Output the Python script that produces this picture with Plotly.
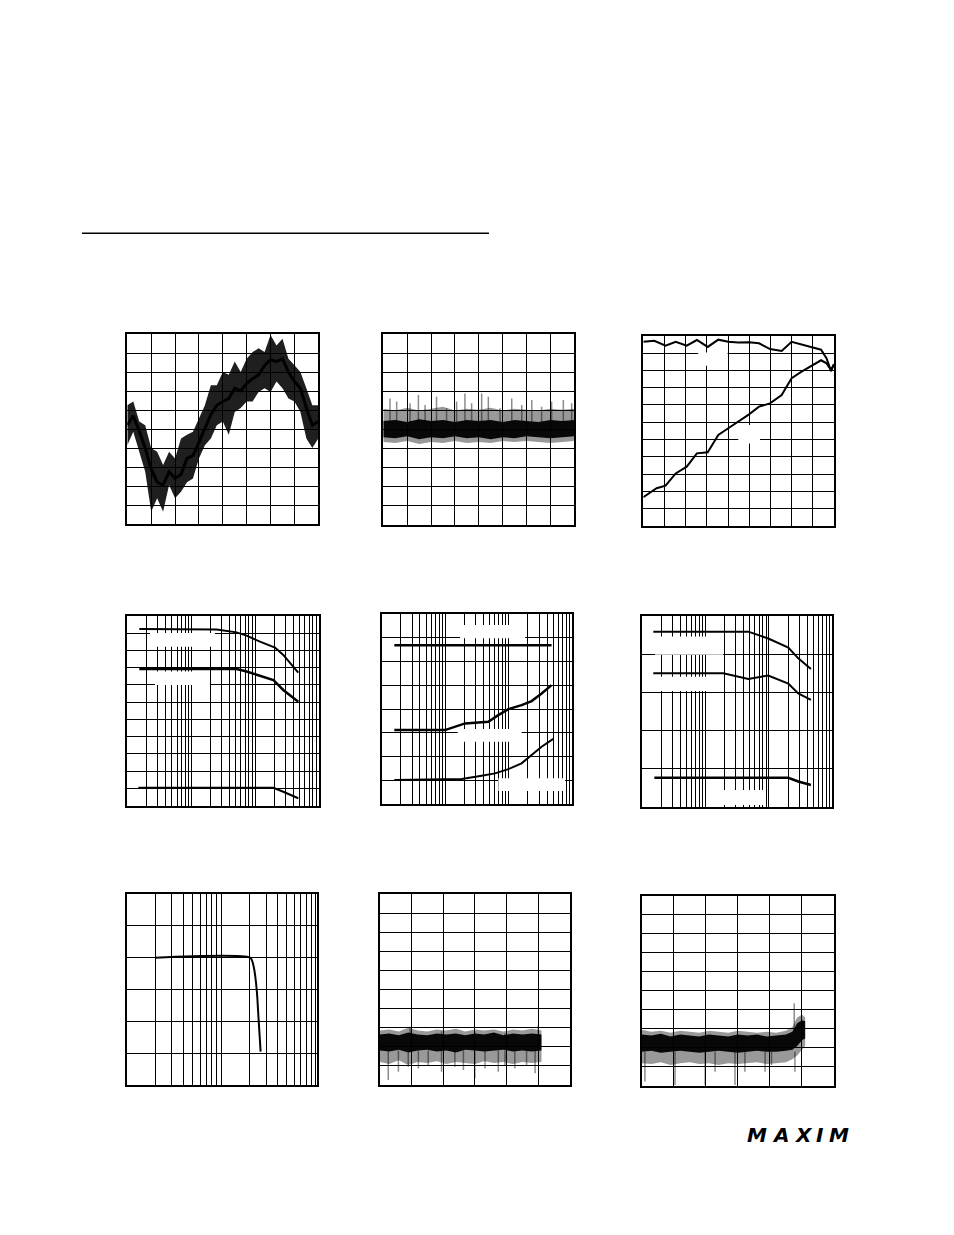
import plotly.graph_objects as go

# ---------------- DATA (grid-division units; log panels use frequency-like values) ----------------
# Panel 1: noisy sine (8 x 10 divisions)
p1_x = [i * 0.25 for i in range(33)]
p1_center = [5.2, 5.7, 4.9, 4.0, 2.9, 2.2, 2.05, 2.75, 2.4, 2.6, 3.45, 3.6, 4.3, 5.0, 5.75, 6.25, 6.45,
             6.6, 7.15, 7.0, 7.4, 7.65, 7.85, 8.35, 8.65, 8.55, 8.7, 8.0, 7.5, 7.15, 6.1, 5.2, 5.4]
p1_upper = [6.25, 6.45, 5.4, 5.2, 4.0, 3.8, 3.1, 3.8, 3.45, 4.5, 4.7, 4.85, 5.55, 6.25, 7.3, 7.3, 8.0,
            7.85, 8.55, 8.0, 8.7, 9.05, 9.25, 9.05, 9.95, 9.4, 9.75, 8.7, 8.35, 8.0, 7.15, 6.25, 6.25]
p1_lower = [4.15, 4.85, 3.8, 2.75, 0.65, 1.35, 0.65, 2.05, 1.35, 1.7, 2.2, 2.4, 3.45, 4.15, 4.5, 5.2, 5.4,
            4.7, 5.9, 6.1, 6.45, 6.45, 6.95, 7.15, 6.95, 7.5, 7.15, 6.6, 6.45, 5.9, 4.5, 4.0, 4.5]

# Panel 2: flat noise band (8 x 10)
p2_x = [i * 0.5 for i in range(17)]
p2_core_up = [5.45, 5.5, 5.4, 5.55, 5.45, 5.5, 5.4, 5.5, 5.45, 5.5, 5.4, 5.5, 5.45, 5.4, 5.5, 5.45, 5.5]
p2_core_lo = [4.6, 4.55, 4.65, 4.5, 4.6, 4.55, 4.65, 4.55, 4.6, 4.5, 4.6, 4.55, 4.65, 4.6, 4.55, 4.6, 4.65]
p2_out_up = [6.1, 6.0, 6.15, 6.0, 6.1, 6.2, 6.0, 6.1, 6.05, 6.15, 6.0, 6.1, 6.05, 6.0, 6.1, 6.05, 6.1]
p2_out_lo = [4.35, 4.3, 4.4, 4.25, 4.35, 4.3, 4.4, 4.3, 4.35, 4.3, 4.4, 4.35, 4.4, 4.35, 4.3, 4.35, 4.4]
p2_spike_x = [0.28, 0.56, 1.12, 1.47, 1.75, 2.23, 2.65, 3.07, 3.42, 3.7, 4.12, 4.4, 4.89, 5.38, 5.8,
              6.22, 6.63, 7.05, 7.54, 7.89]
p2_spike_top = [6.64, 6.47, 6.38, 6.82, 6.29, 6.73, 6.12, 6.47, 6.9, 6.38, 6.9, 6.73, 6.12, 6.64, 6.29,
                6.55, 6.2, 6.47, 6.55, 6.38]

# Panel 3: two lines (9 x 11)
p3_x = [0, 0.52, 1.05, 1.53, 2.05, 2.53, 3.04, 3.54, 4.01, 4.48, 4.99, 5.46, 5.98, 6.53, 7.0, 7.47,
        7.98, 8.39, 8.65, 8.86, 9.0]
p3_top = [10.65, 10.71, 10.42, 10.65, 10.42, 10.75, 10.35, 10.77, 10.65, 10.6, 10.62, 10.56, 10.23,
          10.12, 10.65, 10.5, 10.35, 10.19, 9.69, 8.96, 9.35]
p3_bx = [0, 0.63, 1.05, 1.53, 2.05, 2.53, 3.04, 3.54, 4.01, 4.48, 4.99, 5.46, 5.98, 6.53, 7.0, 7.47,
         7.98, 8.39, 8.65, 8.86, 9.0]
p3_bottom = [1.66, 2.18, 2.33, 3.04, 3.43, 4.2, 4.26, 5.26, 5.65, 6.03, 6.45, 6.9, 7.09, 7.57, 8.54,
             8.92, 9.27, 9.58, 9.4, 9.02, 9.35]

# Panel 4: log x, 3 decades, 11 rows
p4_ax = [1.54, 25.0, 51.4, 73.8, 119, 205, 276, 373, 474]
p4_a = [10.25, 10.21, 10.05, 9.86, 9.51, 9.17, 8.74, 8.16, 7.72]
p4_bx = [1.54, 51.4, 73.8, 119, 193, 276, 373, 474]
p4_b = [7.93, 7.93, 7.78, 7.54, 7.29, 6.71, 6.32, 6.03]
p4_cx = [1.49, 193, 276, 373, 474]
p4_c = [1.04, 1.04, 0.81, 0.62, 0.43]

# Panel 5: log x, 3 decades, 8 rows
p5_ax = [1.58, 472]
p5_a = [6.69, 6.69]
p5_bx = [1.58, 9.9, 20.5, 47.6, 68.4, 98.4, 159, 229, 329, 472]
p5_b = [3.12, 3.12, 3.40, 3.47, 3.75, 4.0, 4.17, 4.34, 4.66, 5.01]
p5_cx = [1.58, 18.2, 37.4, 60.7, 98.4, 159, 229, 329, 501]
p5_c = [1.02, 1.06, 1.2, 1.3, 1.48, 1.72, 2.07, 2.42, 2.75]

# Panel 6: log x, 3 decades, 5 rows
p6_ax = [1.49, 47.2, 97.5, 202, 290, 460]
p6_a = [4.59, 4.59, 4.41, 4.17, 3.89, 3.61]
p6_bx = [1.49, 19.0, 47.2, 97.5, 202, 290, 460]
p6_b = [3.50, 3.50, 3.35, 3.44, 3.23, 2.97, 2.80]
p6_cx = [1.55, 202, 290, 460]
p6_c = [0.76, 0.76, 0.66, 0.57]

# Panel 7: log x, ~2 decades, 6 rows
p7_x = [2.0, 20.3, 21.2, 22.2, 23.0, 24.0, 25.0, 26.3]
p7_y = [4.0, 4.0, 3.93, 3.72, 3.45, 2.93, 2.09, 1.05]

# Panel 8: noise band (6 x 10)
p8_x = [round(i * 0.3, 2) for i in range(18)]
p8_core_up = [2.65, 2.7, 2.6, 2.75, 2.65, 2.6, 2.7, 2.65, 2.7, 2.6, 2.7, 2.65, 2.75, 2.6, 2.7, 2.65, 2.7, 2.65]
p8_core_lo = [1.8, 1.75, 1.85, 1.7, 1.8, 1.85, 1.75, 1.8, 1.7, 1.85, 1.8, 1.75, 1.8, 1.85, 1.75, 1.8, 1.75, 1.8]
p8_out_up = [2.85, 2.9, 2.8, 3.0, 2.85, 2.8, 2.9, 2.85, 2.95, 2.8, 2.9, 2.85, 2.9, 2.8, 2.9, 2.85, 2.95, 2.85]
p8_out_lo = [1.2, 1.1, 1.3, 1.05, 1.2, 1.15, 1.25, 1.1, 1.2, 1.15, 1.1, 1.25, 1.15, 1.2, 1.1, 1.2, 1.15, 1.2]
p8_dn_x = [0.27, 0.59, 0.9, 1.22, 1.53, 1.95, 2.37, 2.64, 3.0, 3.32, 3.74, 3.95, 4.26, 4.63, 4.9]
p8_dn_y = [0.26, 0.7, 0.96, 0.87, 1.05, 0.7, 0.96, 0.79, 0.35, 0.87, 0.7, 1.05, 0.87, 1.05, 0.61]
p8_up_x = [0.96, 1.95, 3.0, 3.95, 5.0]
p8_up_y = [3.05, 2.8, 2.8, 2.7, 3.14]

# Panel 9: noise band with upturn (6 x 10)
p9_x = [0, 0.3, 0.6, 0.9, 1.2, 1.5, 1.8, 2.1, 2.4, 2.7, 3.0, 3.3, 3.6, 3.9, 4.2, 4.5, 4.7, 4.85, 5.0, 5.1]
p9_core_up = [2.7, 2.65, 2.75, 2.6, 2.7, 2.65, 2.6, 2.7, 2.65, 2.6, 2.7, 2.65, 2.7, 2.6, 2.65, 2.7, 2.85, 3.3, 3.45, 3.4]
p9_core_lo = [1.8, 1.85, 1.75, 1.8, 1.85, 1.8, 1.75, 1.8, 1.85, 1.8, 1.75, 1.8, 1.85, 1.8, 1.8, 1.85, 1.9, 2.1, 2.4, 2.5]
p9_out_up = [2.95, 2.85, 2.9, 2.8, 2.9, 2.85, 2.8, 2.9, 2.85, 2.8, 2.9, 2.85, 2.8, 2.85, 2.8, 2.9, 3.1, 3.6, 3.75, 3.6]
p9_out_lo = [1.2, 1.15, 1.25, 1.1, 1.2, 1.25, 1.15, 1.2, 1.1, 1.2, 1.15, 1.2, 1.25, 1.15, 1.2, 1.25, 1.4, 1.6, 1.9, 2.1]
p9_dn_x = [0.1, 1.04, 1.98, 2.29, 2.91, 3.22, 3.85, 4.05, 4.78]
p9_dn_y = [0.23, 0.05, 0.05, 0.75, 0.05, 0.75, 0.75, 1.1, 0.75]
p9_up_x = [4.76]
p9_up_y = [4.35]

# ---------------- LAYOUT GEOMETRY ----------------
PAGE_W, PAGE_H = 954, 1235
OFF = 8  # default body margin of the page
W, H = PAGE_W - 2 * OFF, PAGE_H - 2 * OFF


def px_x(px):
    return (px - OFF) / W


def px_y(py):
    return 1 - (py - OFF) / H


# (left, right, top, bottom) in page pixels, plus axis config
panels = [
    dict(box=(127.3, 318.3, 334.0, 524.0), xr=[0, 8], yr=[0, 10], log=False),
    dict(box=(383.3, 574.3, 334.3, 525.0), xr=[0, 8], yr=[0, 10], log=False),
    dict(box=(643.3, 834.0, 335.7, 526.0), xr=[0, 9], yr=[0, 11], log=False),
    dict(box=(127.3, 319.0, 616.0, 805.7), xr=[0, 3], yr=[0, 11], log=True),
    dict(box=(381.7, 572.3, 614.0, 804.3), xr=[0, 3], yr=[0, 8], log=True),
    dict(box=(642.3, 832.3, 616.0, 806.7), xr=[0, 3], yr=[0, 5], log=True),
    dict(box=(126.7, 317.3, 894.0, 1085.0), xr=[0, 2.021], yr=[0, 6], log=True),
    dict(box=(379.7, 570.0, 894.0, 1085.0), xr=[0, 6], yr=[0, 10], log=False),
    dict(box=(641.7, 834.0, 895.7, 1086.0), xr=[0, 6], yr=[0, 10], log=False),
]

fig = go.Figure()
layout = dict(width=W, height=H, margin=dict(l=0, r=0, t=0, b=0), autosize=False,
              paper_bgcolor="white", plot_bgcolor="white", showlegend=False)

for i, p in enumerate(panels, start=1):
    l, r, t, b = p["box"]
    xa = dict(domain=[px_x(l), px_x(r)], range=p["xr"], showgrid=True, gridcolor="black", gridwidth=1,
              showticklabels=False, ticks="", zeroline=False, showline=True, linecolor="black",
              linewidth=2, mirror=True, anchor=f"y{i}", fixedrange=True)
    if p["log"]:
        xa.update(type="log", dtick="D1")
    else:
        xa.update(dtick=1, tick0=0)
    ya = dict(domain=[px_y(b), px_y(t)], range=p["yr"], showgrid=True, gridcolor="black", gridwidth=1,
              dtick=1, tick0=0, showticklabels=False, ticks="", zeroline=False, showline=True,
              linecolor="black", linewidth=2, mirror=True, anchor=f"x{i}", fixedrange=True)
    layout[f"xaxis{i}" if i > 1 else "xaxis"] = xa
    layout[f"yaxis{i}" if i > 1 else "yaxis"] = ya


def ax(i):
    return ("x" if i == 1 else f"x{i}"), ("y" if i == 1 else f"y{i}")


def band(i, x, up, lo, color):
    xr_, yr_ = ax(i)
    fig.add_trace(go.Scatter(x=list(x) + list(x)[::-1], y=list(up) + list(lo)[::-1], fill="toself",
                             fillcolor=color, mode="lines", line=dict(width=0), xaxis=xr_, yaxis=yr_,
                             hoverinfo="skip"))


def line(i, x, y, width=2, color="black", shape="linear"):
    xr_, yr_ = ax(i)
    fig.add_trace(go.Scatter(x=x, y=y, mode="lines", line=dict(color=color, width=width, shape=shape),
                             xaxis=xr_, yaxis=yr_, hoverinfo="skip"))


def spikes(i, xs, tops, base, color="rgba(0,0,0,0.45)", width=1.5):
    sx, sy = [], []
    for xv, tv in zip(xs, tops):
        sx += [xv, xv, None]
        sy += [base, tv, None]
    xr_, yr_ = ax(i)
    fig.add_trace(go.Scatter(x=sx, y=sy, mode="lines", line=dict(color=color, width=width),
                             xaxis=xr_, yaxis=yr_, hoverinfo="skip"))


# White label masks (blank label areas in the original), as axis-domain fractions,
# drawn as white filled traces so they sit above the grid but below the curves.
masks = [
    (3, 0.288, 0.442, 0.842, 0.912),
    (3, 0.498, 0.612, 0.434, 0.531),
    (4, 0.118, 0.457, 0.838, 0.910),
    (4, 0.144, 0.431, 0.636, 0.707),
    (5, 0.411, 0.752, 0.872, 0.942),
    (5, 0.399, 0.734, 0.329, 0.396),
    (5, 0.612, 0.962, 0.070, 0.137),
    (6, 0.067, 0.426, 0.797, 0.892),
    (6, 0.067, 0.426, 0.607, 0.682),
    (6, 0.339, 0.646, 0.009, 0.087),
]
for (i, fx0, fx1, fy0, fy1) in masks:
    p = panels[i - 1]
    xr0, xr1 = p["xr"]
    yr0, yr1 = p["yr"]
    if p["log"]:
        mx0 = 10 ** (xr0 + fx0 * (xr1 - xr0))
        mx1 = 10 ** (xr0 + fx1 * (xr1 - xr0))
    else:
        mx0 = xr0 + fx0 * (xr1 - xr0)
        mx1 = xr0 + fx1 * (xr1 - xr0)
    my0 = yr0 + fy0 * (yr1 - yr0)
    my1 = yr0 + fy1 * (yr1 - yr0)
    band(i, [mx0, mx1], [my1, my1], [my0, my0], "white")

# Panel 1
band(1, p1_x, p1_upper, p1_lower, "rgba(0,0,0,0.88)")
line(1, p1_x, p1_center, width=3)

# Panel 2
band(2, p2_x, p2_out_up, p2_out_lo, "rgba(0,0,0,0.4)")
band(2, p2_x, p2_core_up, p2_core_lo, "rgba(0,0,0,0.95)")
spikes(2, p2_spike_x, p2_spike_top, 5.4)

# Panel 3
line(3, p3_x, p3_top, width=2)
line(3, p3_bx, p3_bottom, width=2)

# Panel 4
line(4, p4_ax, p4_a, width=2)
line(4, p4_bx, p4_b, width=2.5)
line(4, p4_cx, p4_c, width=2)

# Panel 5
line(5, p5_ax, p5_a, width=2.5)
line(5, p5_bx, p5_b, width=2.5)
line(5, p5_cx, p5_c, width=2)

# Panel 6
line(6, p6_ax, p6_a, width=2)
line(6, p6_bx, p6_b, width=2)
line(6, p6_cx, p6_c, width=2.5)

# Panel 7
line(7, p7_x, p7_y, width=2, shape="spline")

# Panel 8
band(8, p8_x, p8_out_up, p8_out_lo, "rgba(0,0,0,0.4)")
band(8, p8_x, p8_core_up, p8_core_lo, "rgba(0,0,0,0.95)")
spikes(8, p8_dn_x, p8_dn_y, 1.8)
spikes(8, p8_up_x, p8_up_y, 2.6)

# Panel 9
band(9, p9_x, p9_out_up, p9_out_lo, "rgba(0,0,0,0.4)")
band(9, p9_x, p9_core_up, p9_core_lo, "rgba(0,0,0,0.95)")
spikes(9, p9_dn_x, p9_dn_y, 1.8)
spikes(9, p9_up_x, p9_up_y, 2.8)

# Section rule at top of the page
layout["shapes"] = [dict(type="line", xref="paper", yref="paper", x0=px_x(82), x1=px_x(489),
                         y0=px_y(233.3), y1=px_y(233.3), line=dict(color="black", width=1.5))]

# Logo text
logo_letters = ["M", "A", "X", "I", "M"]
logo_pos = [757, 780, 803, 820, 839]
annotations = []
for ch, px in zip(logo_letters, logo_pos):
    annotations.append(dict(text=f"<b><i>{ch}</i></b>", x=px_x(px), y=px_y(1135), xref="paper", yref="paper",
                            showarrow=False, xanchor="center", yanchor="middle",
                            font=dict(family="DejaVu Sans, sans-serif", size=20, color="black")))
layout["annotations"] = annotations

fig.update_layout(**layout)
fig.write_html("out.html", config={"displayModeBar": False})
